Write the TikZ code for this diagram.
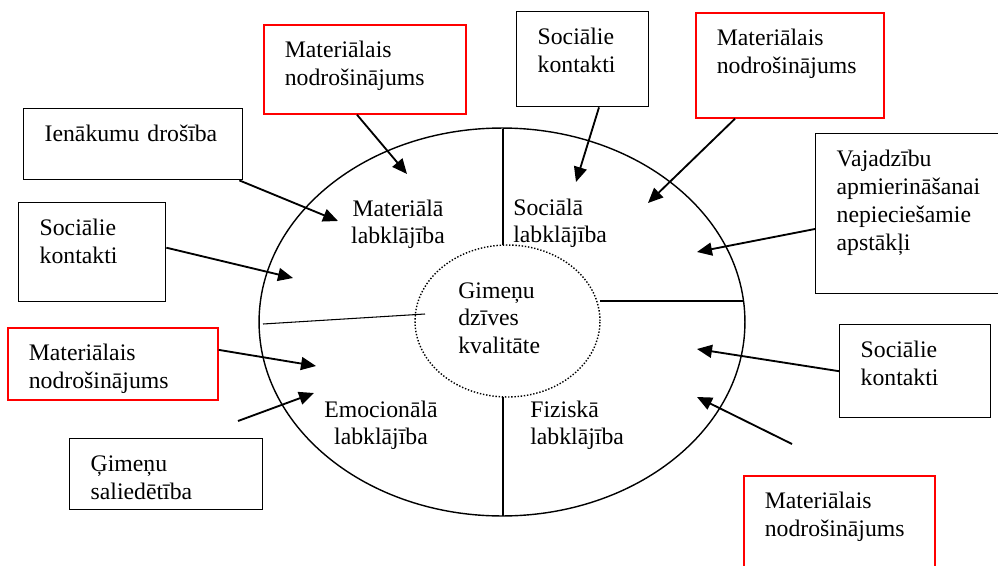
\documentclass[tikz,border=0pt]{standalone}
\usepackage{fontspec}
\setmainfont{Liberation Serif}
\usetikzlibrary{arrows.meta}

\tikzset{
  kaste/.style={draw, line width=0.8pt, anchor=north west, align=left,
    inner xsep=0.42cm, inner ysep=0pt, text height=0.66cm},
  sarkana/.style={kaste, draw=red, line width=1pt},
  uzraksts/.style={inner sep=0pt, text width=2.4cm, align=left, anchor=base west},
  bulta/.style={line width=1.05pt, -{Triangle[length=0.3cm,width=0.26cm]}},
  dala/.style={line width=0.6pt}
}

\begin{document}
\begin{tikzpicture}[x=0.02cm, y=-0.02cm, font=\fontsize{13.5}{15.9}\selectfont]
    \useasboundingbox (0,0) rectangle (998,565);

    % Lielais aplis un vidus
    \draw[line width=0.8pt] (502,322) ellipse (4.86cm and 3.88cm);
    \draw[densely dotted, line width=0.8pt] (507.5,321) ellipse (1.85cm and 1.52cm);

    % Sektoru robezas
    \draw[dala] (503,129) -- (503,245);
    \draw[dala] (503,397) -- (503,516);
    \draw[dala] (600,301) -- (744,301);
    \draw[dala] (263,324) -- (425,314);

    % Uzraksti iekspuse
    \node[uzraksts, align=center, anchor=base] (matl) at (398,216) {Materiālā\\labklājība};
    \node[uzraksts] (socl) at (513,215) {Sociālā\\labklājība};
    \node[uzraksts] (kval) at (458,298) {Gimeņu\\dzīves\\kvalitāte};
    \node[uzraksts, align=center, anchor=base] (emol) at (381,417) {Emocionālā\\labklājība};
    \node[uzraksts] (fizl) at (530,417) {Fiziskā\\labklājība};

    % Faktoru kastes
    \node[sarkana, text width=3.2cm, text depth=1.12cm] (mat1) at (263,24) {Materiālais\\nodrošinājums};
    \node[kaste, text width=3.54cm, text depth=0.76cm] (ienak) at (23,108) {Ienākumu drošība};
    \node[kaste, text width=2.1cm, text depth=1.32cm] (soc1) at (18,202) {Sociālie\\kontakti};
    \node[sarkana, text width=3.36cm, text depth=0.78cm] (mat2) at (7,327) {Materiālais\\nodrošinājums};
    \node[kaste, text width=3.02cm, text depth=0.76cm] (gim) at (69,438) {Ģimeņu\\saliedētība};
    \node[kaste, text width=1.8cm, text depth=1.24cm] (soc2) at (516,11) {Sociālie\\kontakti};
    \node[sarkana, text width=2.92cm, text depth=1.44cm] (mat3) at (695,12) {Materiālais\\nodrošinājums};
    \node[kaste, text width=3.16cm, text depth=2.54cm] (vaj) at (815,133) {Vajadzību\\apmierināšanai\\nepieciešamie\\apstākļi};
    \node[kaste, text width=2.18cm, text depth=1.2cm] (soc3) at (839,324) {Sociālie\\kontakti};
    \node[sarkana, text width=2.98cm, text depth=2cm] (mat4) at (743,475) {Materiālais\\nodrošinājums};

    % Bultu gali
    \coordinate (t1) at (407,174);
    \coordinate (t2) at (338,221);
    \coordinate (t3) at (293,278);
    \coordinate (t4) at (316,366);
    \coordinate (s5) at (238,421);
    \coordinate (t5) at (314,393);
    \coordinate (t6) at (576,182);
    \coordinate (t7) at (648,203);
    \coordinate (t8) at (697,252);
    \coordinate (t9) at (697,349);
    \coordinate (s10) at (792,444);
    \coordinate (t10) at (697,397);

    % Bultas
    \draw[bulta] ([xshift=1.88cm]mat1.south west) -- (t1);
    \draw[bulta] ([xshift=-0.08cm]ienak.south east) -- (t2);
    \draw[bulta] ([yshift=0.09cm]soc1.east) -- (t3);
    \draw[bulta] ([yshift=0.28cm]mat2.east) -- (t4);
    \draw[bulta] (s5) -- (t5);
    \draw[bulta] ([xshift=1.66cm]soc2.south west) -- (t6);
    \draw[bulta] ([xshift=0.8cm]mat3.south west) -- (t7);
    \draw[bulta] ([yshift=-1.92cm]vaj.north west) -- (t8);
    \draw[bulta] (soc3.west) -- (t9);
    \draw[bulta] (s10) -- (t10);
\end{tikzpicture}
\end{document}
